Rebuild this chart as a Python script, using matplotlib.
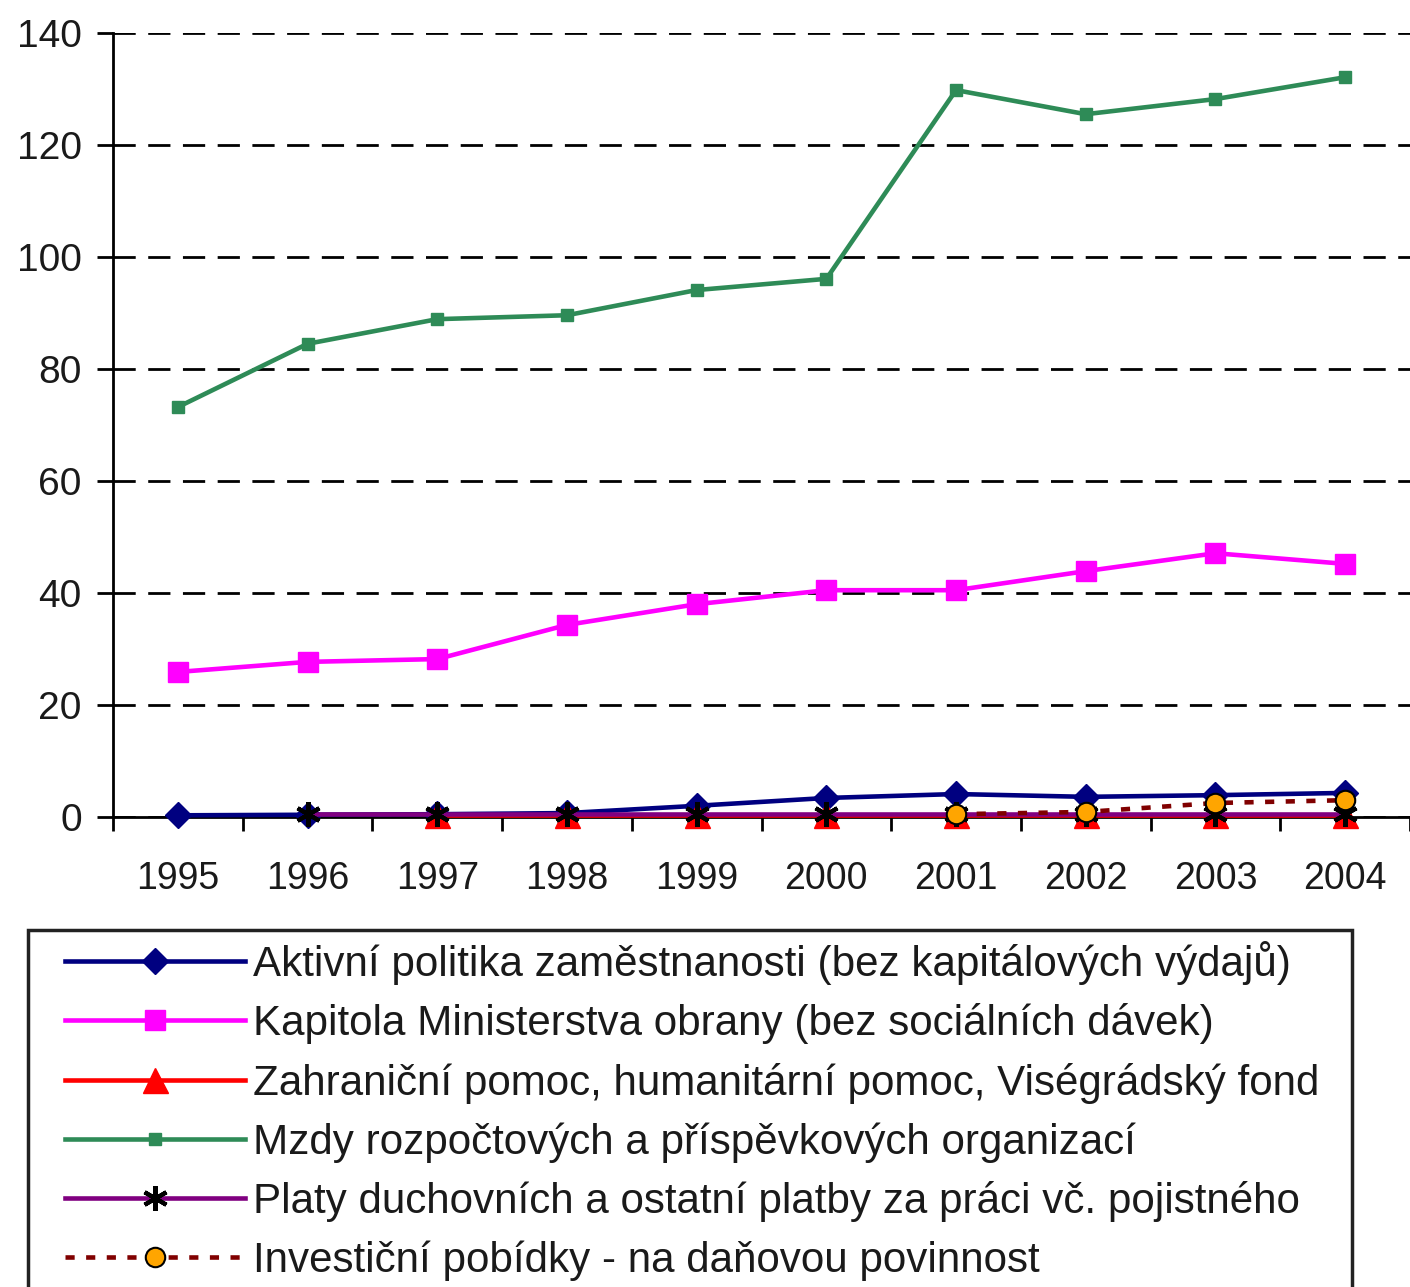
import numpy as np
import matplotlib
matplotlib.use("Agg")
import matplotlib.pyplot as plt
from matplotlib.patches import Rectangle

plt.rcParams['font.family'] = ['Liberation Sans', 'DejaVu Sans']

years = ['1995', '1996', '1997', '1998', '1999', '2000', '2001', '2002', '2003', '2004']

# values (nan = no point)
aktivni = [0.3, 0.4, 0.5, 0.7, 2.0, 3.4, 4.1, 3.6, 3.9, 4.3]
obrana = [25.9, 27.7, 28.2, 34.3, 38.0, 40.5, 40.5, 43.9, 47.1, 45.2]
pomoc = [np.nan, np.nan, 0.3, 0.3, 0.3, 0.3, 0.3, 0.3, 0.3, 0.3]
mzdy = [73.2, 84.5, 88.9, 89.6, 94.1, 96.1, 129.8, 125.5, 128.2, 132.1]
platy = [np.nan, 0.5, 0.5, 0.5, 0.5, 0.5, 0.5, 0.5, 0.5, 0.5]
pobidky = [np.nan, np.nan, np.nan, np.nan, np.nan, np.nan, 0.5, 0.9, 2.5, 3.0]

labels = [
    'Aktivní politika zaměstnanosti (bez kapitálových výdajů)',
    'Kapitola Ministerstva obrany (bez sociálních dávek)',
    'Zahraniční pomoc, humanitární pomoc, Viségrádský fond',
    'Mzdy rozpočtových a příspěvkových organizací',
    'Platy duchovních a ostatní platby za práci vč. pojistného',
    'Investiční pobídky - na daňovou povinnost',
]

W, H = 1410, 1287
fig = plt.figure(figsize=(W / 100, H / 100), dpi=100)
ax = fig.add_axes([113 / W, 1 - 817 / H, 1 - 113 / W, (817 - 33) / H])

x = np.arange(len(years))
lw = 3.3
ax.plot(x, aktivni, color='#000080', lw=lw, marker='D', ms=13, label=labels[0], clip_on=False, zorder=3)
ax.plot(x, obrana, color='#FF00FF', lw=lw, marker='s', ms=14, label=labels[1], clip_on=False, zorder=3)
ax.plot(x, pomoc, color='#FF0000', lw=lw, marker='^', ms=18, label=labels[2], clip_on=False, zorder=3)
ax.plot(x, mzdy, color='#2E8B57', lw=lw, marker='s', ms=9, label=labels[3], clip_on=False, zorder=3)
ax.plot(x, platy, color='#800080', lw=lw, marker=(6, 2, 0), ms=18, mec='black', mew=3,
        label=labels[4], clip_on=False, zorder=3)
ax.plot(x, pobidky, color='#800000', lw=lw, ls=(0, (2, 2.5)), marker='o', ms=14, mfc='#FFA500',
        mec='black', mew=1.5, label=labels[5], clip_on=False, zorder=3)

ax.set_xlim(-0.5, 9.48)
ax.set_ylim(0, 140)
ax.set_yticks(range(0, 141, 20))
ax.set_xticks(x)
ax.set_xticklabels(years)
ax.set_xticks(np.arange(-0.5, 10, 1), minor=True)
ax.tick_params(axis='x', which='major', length=0, pad=32, labelsize=27, colors='#1a1a1a')
ax.tick_params(axis='x', which='minor', length=10, width=2, direction='out', color='black')
ax.tick_params(axis='y', length=11.5, width=2, direction='out', pad=11, labelsize=28, colors='#1a1a1a')
ax.tick_params(axis='y', color='black')

ax.yaxis.grid(True, color='black', ls=(0, (8, 4.5)), lw=2)
ax.set_axisbelow(True)
for s in ['top', 'right']:
    ax.spines[s].set_visible(False)
ax.spines['left'].set_linewidth(2)
ax.spines['bottom'].set_linewidth(2)

# legend box drawn separately so the handles can sit further in
fs = 30.3
fig.patches.append(Rectangle((28 / W, -0.01), (1352 - 28) / W, 1 - 930 / H + 0.01,
                             transform=fig.transFigure, fill=False, ec='#222222', lw=2.5))
leg = fig.legend(loc='upper left', bbox_to_anchor=((65 - 0.25 * fs * 100 / 72) / W, 1 - 930 / H),
                 fontsize=fs, handlelength=4.28, handletextpad=0.19, labelspacing=0.44,
                 borderpad=0.25, borderaxespad=0, frameon=False)
for t in leg.get_texts():
    t.set_color('#1a1a1a')

fig.savefig('out.png', dpi=100)
